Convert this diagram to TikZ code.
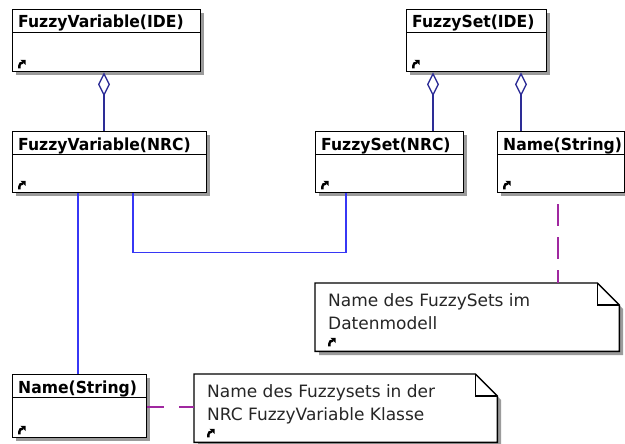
\documentclass[tikz,border=0pt]{standalone}
\usepackage{fontspec}
\setmainfont{DejaVu Sans}
\newfontfamily\hdrfont{DejaVu Sans}[FakeStretch=0.94]
\usetikzlibrary{arrows.meta,calc}
\definecolor{aggc}{RGB}{45,45,150}
\definecolor{assc}{RGB}{55,55,245}
\definecolor{notec}{RGB}{160,40,160}
\definecolor{shad}{RGB}{155,155,155}
\tikzset{
  boxshape/.style={draw=black, line width=1.4pt, fill=white, inner sep=0pt, anchor=north west, rectangle},
  noteshape/.style={inner sep=0pt, anchor=north west, rectangle},
  hdr/.style={font=\hdrfont\fontsize{16.6}{19}\selectfont\bfseries, anchor=base west, inner sep=0pt},
  notetext/.style={font=\fontsize{17}{23}\selectfont, anchor=base west, inner sep=0pt, text=black!85},
  agg/.style={draw=aggc, line width=1.3pt, -{Diamond[open, length=24pt, width=12pt, line width=1.3pt]}},
  assoc/.style={draw=assc, line width=1.3pt},
  notelink/.style={draw=notec, line width=1.3pt},
  icon/.pic={
    \fill (2.4,-8.6) -- (7.6,-8.6) -- (7.6,-3.4) -- cycle;
    \draw[line width=2.4pt] (1.3,0) -- (1.3,-2.5) .. controls (1.3,-4.6) and (2.6,-5.8) .. (5,-5.8);
  }
}
\newcommand{\umlclass}[6]{%
  \fill[shad] (#2+4,#3+4) rectangle ++(#4,#5);
  \node[boxshape, minimum width=#4, minimum height=#5] (#1) at (#2,#3) {};
  \draw[line width=0.9pt] ([yshift=-23]#1.north west) -- ([yshift=-23]#1.north east);
  \node[hdr] (#1-t) at ([xshift=6,yshift=-19]#1.north west) {#6};
  \pic at ([xshift=6,yshift=4]#1.south west) {icon};
}
\newcommand{\umlnote}[7]{%
  \fill[shad] (#2+4,#3+4) -- ++(#4-22,0) -- ++(22,22) -- ++(0,#5-22) -- ++(-#4,0) -- cycle;
  \node[noteshape, minimum width=#4, minimum height=#5] (#1) at (#2,#3) {};
  \draw[line width=1.4pt, fill=white] (#1.north west) -- ([xshift=-22]#1.north east) -- ([yshift=-22]#1.north east) -- (#1.south east) -- (#1.south west) -- cycle;
  \draw[line width=1.1pt] ([xshift=-22]#1.north east) |- ([yshift=-22]#1.north east);
  \node[notetext] (#1-t) at ([xshift=13,yshift=-23]#1.north west) {\begin{tabular}[t]{@{}l@{}}#6\\#7\end{tabular}};
  \pic at ([xshift=13,yshift=5]#1.south west) {icon};
}
\begin{document}
\begin{tikzpicture}[x=1pt,y=-1pt]
\useasboundingbox (0,0) rectangle (625,444);
\umlclass{fvide}{12}{9}{188}{62}{FuzzyVariable(IDE)}
\umlclass{fside}{406}{9}{140}{62}{FuzzySet(IDE)}
\umlclass{fvnrc}{12}{131}{194}{61}{FuzzyVariable(NRC)}
\umlclass{fsnrc}{315}{131}{148}{61}{FuzzySet(NRC)}
\umlclass{nstop}{497}{131}{127}{61}{Name(String)}
\umlclass{nsbot}{12}{374}{134}{63}{Name(String)}
\umlnote{noteA}{315}{283}{304}{68}{Name des FuzzySets im}{Datenmodell}
\umlnote{noteB}{194}{374}{303}{68}{Name des Fuzzysets in der}{NRC FuzzyVariable Klasse}
% aggregations
\draw[agg] ([xshift=92]fvnrc.north west) -- ([xshift=92]fvide.south west);
\draw[agg] ([xshift=118]fsnrc.north west) -- ([xshift=27]fside.south west);
\draw[agg] ([xshift=24]nstop.north west) -- ([xshift=115]fside.south west);
% associations
\draw[assoc] ([xshift=66]fvnrc.south west) -- ([xshift=66]nsbot.north west);
\draw[assoc] ([xshift=121]fvnrc.south west) -- ++(0,59) -| ([xshift=31]fsnrc.south west);
% note links
\draw[notelink, dash pattern=on 22pt off 11pt, dash phase=22pt] ([xshift=61]nstop.south west) -- ([xshift=243]noteA.north west);
\draw[notelink, dash pattern=on 17pt off 15pt] ([yshift=-33]nsbot.north east) -- ([yshift=-33]noteB.north west);
\end{tikzpicture}
\end{document}
